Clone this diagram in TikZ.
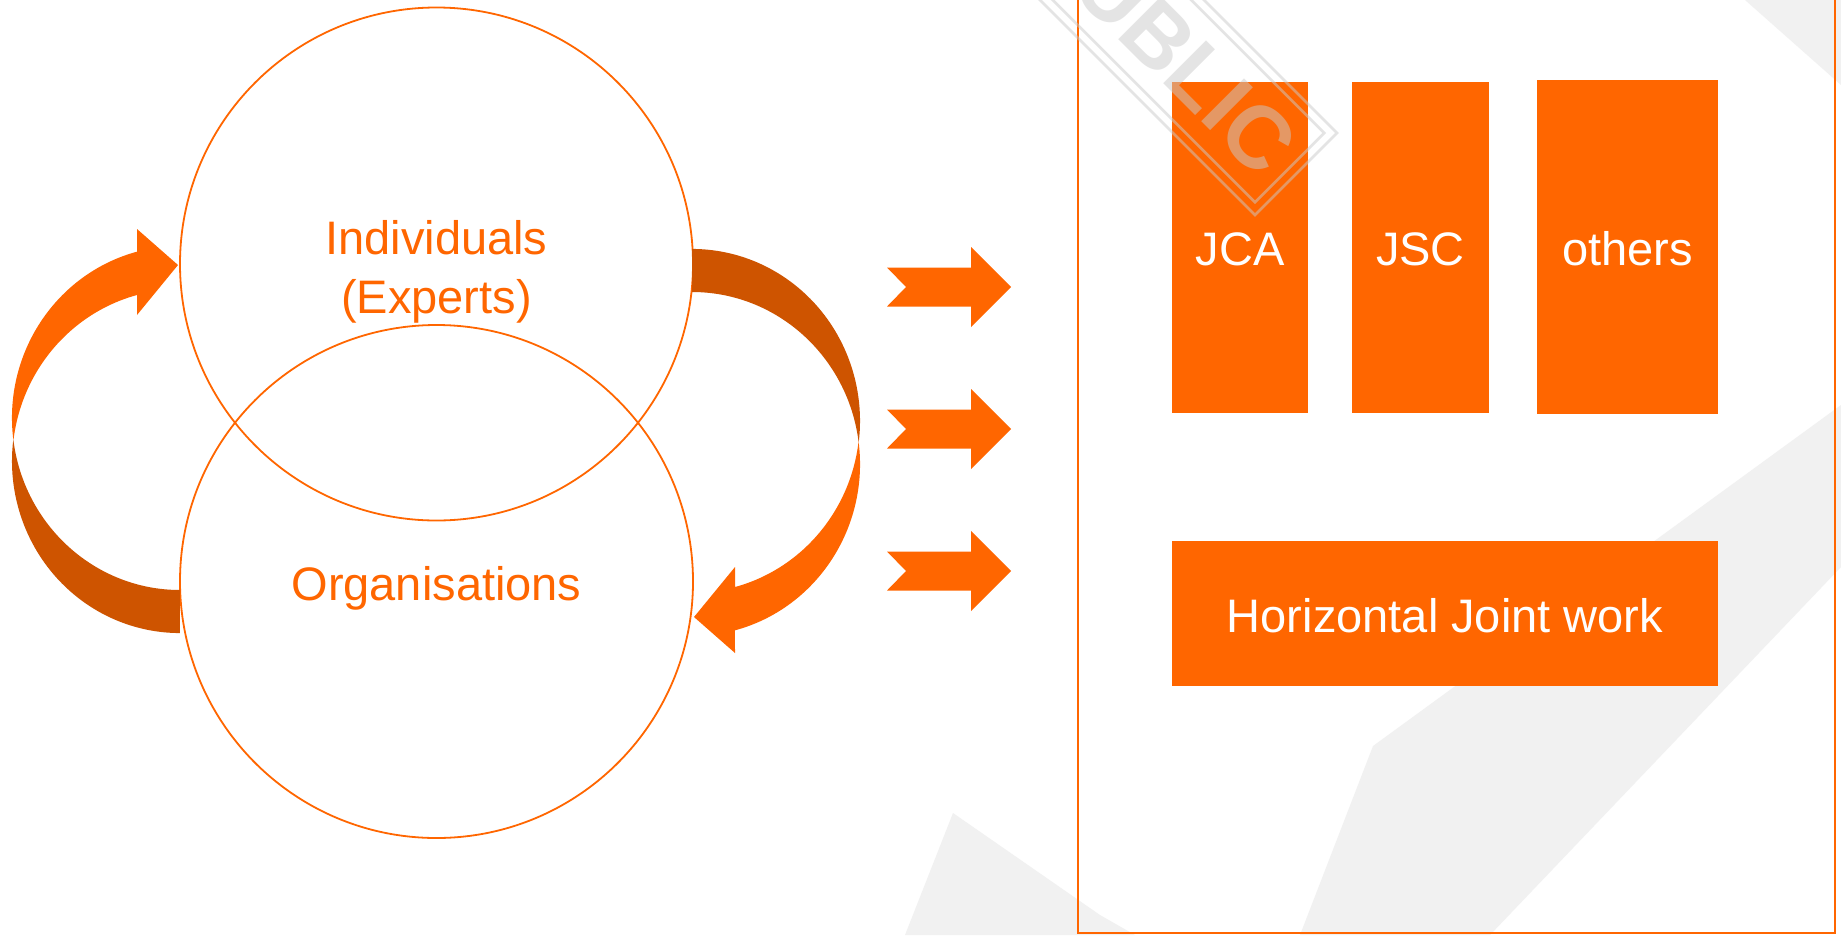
\documentclass[tikz,border=0pt]{standalone}
\usepackage{fontspec}
\setmainfont{Liberation Sans}
\definecolor{org}{RGB}{255,102,0}
\definecolor{orgdark}{RGB}{206,84,0}
\definecolor{swoosh}{RGB}{241,241,241}
\definecolor{wmgray}{RGB}{202,202,202}
\begin{document}
\begin{tikzpicture}[x=1pt,y=-1pt,
  ring/.style={circle, draw=org, line width=1.8pt, minimum size=513pt, inner sep=0pt},
  olbl/.style={text=org, font=\fontsize{47}{56}\selectfont, anchor=base, inner sep=0pt},
  wlbl/.style={text=white, font=\fontsize{47}{56}\selectfont, anchor=base, inner sep=0pt},
  obox/.style={fill=org, draw=none, inner sep=0pt},
  frameline/.style={draw=org, line width=1.6pt},
  wmline/.style={draw=wmgray, draw opacity=0.5, line width=2.6pt},
  wmtext/.style={text=wmgray, text opacity=0.5, font=\fontsize{88}{88}\selectfont\bfseries, rotate=-45, inner sep=0pt}]
\useasboundingbox (0,0) rectangle (1841,935);
\clip (0,0) rectangle (1841,935);
\fill[white] (0,0) rectangle (1841,935);
% background swooshes
\fill[swoosh] (905,935) -- (953,813) -- (1100,915) -- (1135,935) -- cycle;
\fill[swoosh] (1300,935) -- (1373,746) -- (1841,405) -- (1841,567) -- (1490,935) -- cycle;
\fill[swoosh] (1745,0) -- (1841,0) -- (1841,85) -- cycle;
% frame on the right
\coordinate (ftl) at (1078,-5);
\coordinate (fbl) at (1078,933);
\coordinate (fbr) at (1835,933);
\coordinate (ftr) at (1835,-5);
\draw[frameline] (ftl) -- (fbl) -- (fbr) -- (ftr);
% circles
\node[ring] (indiv) at (436.5,264) {};
\node[ring] (orgs) at (436.5,581.5) {};
\node[olbl] (tind) at (436.5,254) {Individuals};
\node[olbl] (texp) at (436.5,313) {(Experts)};
\node[olbl] (torg) at (436.5,600) {Organisations};
% curved arrows
\begin{scope}
  \fill[orgdark] (13.3,439.5) arc[start angle=187.2, end angle=90, x radius=168, y radius=172]
    -- (180,590) arc[start angle=90, end angle=172.8, x radius=168, y radius=172] -- cycle;
  \fill[org] (13.3,439.5) arc[start angle=172.8, end angle=255.2, x radius=168, y radius=172]
    -- (137,229) -- (178,265) -- (137,315) -- (137,295)
    arc[start angle=255.1, end angle=187.2, x radius=168, y radius=172] -- cycle;
\end{scope}
\begin{scope}[rotate around={180:(436,441)}]
  \fill[orgdark] (13.3,439.5) arc[start angle=187.2, end angle=90, x radius=168, y radius=172]
    -- (180,590) arc[start angle=90, end angle=172.8, x radius=168, y radius=172] -- cycle;
  \fill[org] (13.3,439.5) arc[start angle=172.8, end angle=255.2, x radius=168, y radius=172]
    -- (137,229) -- (178,265) -- (137,315) -- (137,295)
    arc[start angle=255.1, end angle=187.2, x radius=168, y radius=172] -- cycle;
\end{scope}
% straight notched arrows
\foreach \c in {287,429,571} {
  \fill[org] (887,{\c-19.5}) -- (971,{\c-19.5}) -- (971,{\c-40}) -- (1011,\c)
    -- (971,{\c+40}) -- (971,{\c+19.5}) -- (887,{\c+19.5}) -- (906,\c) -- cycle;
}
% boxes
\node[obox, minimum width=136pt, minimum height=331pt] (jca) at (1240,247.5) {};
\node[obox, minimum width=137pt, minimum height=331pt] (jsc) at (1420.5,247.5) {};
\node[obox, minimum width=181pt, minimum height=334pt] (oth) at (1627.5,247) {};
\node[obox, minimum width=546pt, minimum height=145pt] (hjw) at (1445,613.5) {};
\node[wlbl] (tjca) at (1240,265) {JCA};
\node[wlbl] (tjsc) at (1420.5,265) {JSC};
\node[wlbl] (toth) at (1627.5,265) {others};
\node[wlbl] (thjw) at (1445,632) {Horizontal Joint work};
% watermark
\draw[wmline] (1255,215) -- (1337,133) -- (913,-291) -- (831,-209) -- cycle;
\draw[wmline] (1255,202.2) -- (1324.2,133) -- (906.3,-284.9) -- (837.1,-215.7) -- cycle;
\node[wmtext] (wm) at (1165,43) {PUBLIC};
\end{tikzpicture}
\end{document}
